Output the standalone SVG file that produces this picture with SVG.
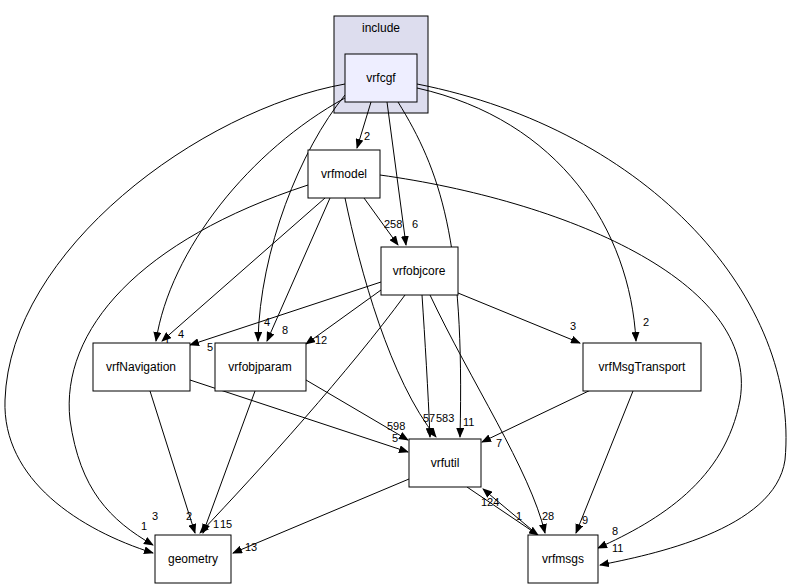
<svg xmlns="http://www.w3.org/2000/svg" width="795" height="588" viewBox="0 0 795 588">
<style>
text{font-family:"Liberation Sans",Arial,sans-serif;font-size:12px;fill:#000}
.n{fill:#fff;stroke:#000;stroke-width:1}
.e path{fill:none;stroke:#000;stroke-width:1;marker-end:url(#a)}
.l{font-size:11px}
</style>
<defs><marker id="a" markerWidth="10" markerHeight="8" refX="9" refY="4" orient="auto" markerUnits="userSpaceOnUse"><path d="M0,0L10,4L0,8z" fill="#000"/></marker></defs>
<rect width="795" height="588" fill="#fff"/>
<g id="cluster_include"><rect x="334" y="16" width="94" height="97" fill="#ddddee" stroke="#000"/><text x="381" y="32" text-anchor="middle">include</text></g>
<g class="e" id="edges">
<path d="M371,102L357,148"/>
<path d="M387,102L406,245"/>
<path d="M398,102C440,170 465,240 460,437"/>
<path d="M345,98C250,150 170,250 156,341"/>
<path d="M345,95C300,150 260,250 258,341"/>
<path d="M417,88C560,120 630,230 636,341"/>
<path d="M345,84C200,110 10,250 5,400C2,480 80,530 153,553"/>
<path d="M417,84C650,130 800,300 785,460C775,530 650,555 600,565"/>
<path d="M364,198L398,245"/>
<path d="M325,198L162,341"/>
<path d="M330,198L267,341"/>
<path d="M345,198C360,270 390,380 436,437"/>
<path d="M308,185C140,240 60,330 70,420C80,490 110,520 153,545"/>
<path d="M380,175C560,200 760,280 740,400C725,480 660,520 598,548"/>
<path d="M381,282L190,345"/>
<path d="M381,290L306,344"/>
<path d="M458,293L580,343"/>
<path d="M422,295C425,340 428,390 430,437"/>
<path d="M430,295C470,380 530,470 545,533"/>
<path d="M405,295C350,370 260,470 200,533"/>
<path d="M190,380L408,452"/>
<path d="M150,391L195,533"/>
<path d="M306,380L408,440"/>
<path d="M255,391L203,533"/>
<path d="M620,376L482,442"/>
<path d="M633,391L576,533"/>
<path d="M409,479L233,553"/>
<path d="M467,487L538,535"/>
<path d="M538,535L483,489"/>
</g>
<g id="labels" class="l">
<text class="l" x="364" y="140">2</text>
<text class="l" x="412" y="228">6</text>
<text class="l" x="463" y="426">11</text>
<text class="l" x="164" y="344">1</text>
<text class="l" x="264" y="326">4</text>
<text class="l" x="643" y="326">2</text>
<text class="l" x="141" y="530">1</text>
<text class="l" x="612" y="552">11</text>
<text class="l" x="384" y="228">258</text>
<text class="l" x="178" y="338">4</text>
<text class="l" x="282" y="334">8</text>
<text class="l" x="423" y="422">57</text>
<text class="l" x="152" y="520">3</text>
<text class="l" x="612" y="535">8</text>
<text class="l" x="207" y="351">5</text>
<text class="l" x="315" y="344">12</text>
<text class="l" x="570" y="330">3</text>
<text class="l" x="436" y="422">583</text>
<text class="l" x="542" y="520">28</text>
<text class="l" x="220" y="528">15</text>
<text class="l" x="392" y="442">5</text>
<text class="l" x="186" y="520">2</text>
<text class="l" x="387" y="430">598</text>
<text class="l" x="213" y="528">1</text>
<text class="l" x="496" y="447">7</text>
<text class="l" x="582" y="524">9</text>
<text class="l" x="245" y="551">13</text>
<text class="l" x="516" y="520">1</text>
<text class="l" x="481" y="506">124</text>
</g>
<g id="vrfcgf"><rect class="n" x="345" y="54" width="72" height="48" style="fill:#eeeeff"/><text x="381" y="82" text-anchor="middle">vrfcgf</text></g>
<g id="vrfmodel"><rect class="n" x="308" y="150" width="72" height="48"/><text x="344" y="178" text-anchor="middle">vrfmodel</text></g>
<g id="vrfobjcore"><rect class="n" x="381" y="247" width="77" height="48"/><text x="419" y="275" text-anchor="middle">vrfobjcore</text></g>
<g id="vrfNavigation"><rect class="n" x="93" y="343" width="97" height="48"/><text x="141" y="371" text-anchor="middle">vrfNavigation</text></g>
<g id="vrfobjparam"><rect class="n" x="215" y="343" width="91" height="48"/><text x="260" y="371" text-anchor="middle">vrfobjparam</text></g>
<g id="vrfMsgTransport"><rect class="n" x="583" y="343" width="118" height="48"/><text x="642" y="371" text-anchor="middle">vrfMsgTransport</text></g>
<g id="vrfutil"><rect class="n" x="409" y="439" width="72" height="48"/><text x="445" y="467" text-anchor="middle">vrfutil</text></g>
<g id="geometry"><rect class="n" x="155" y="535" width="76" height="48"/><text x="193" y="563" text-anchor="middle">geometry</text></g>
<g id="vrfmsgs"><rect class="n" x="528" y="535" width="70" height="48"/><text x="563" y="563" text-anchor="middle">vrfmsgs</text></g>
</svg>
